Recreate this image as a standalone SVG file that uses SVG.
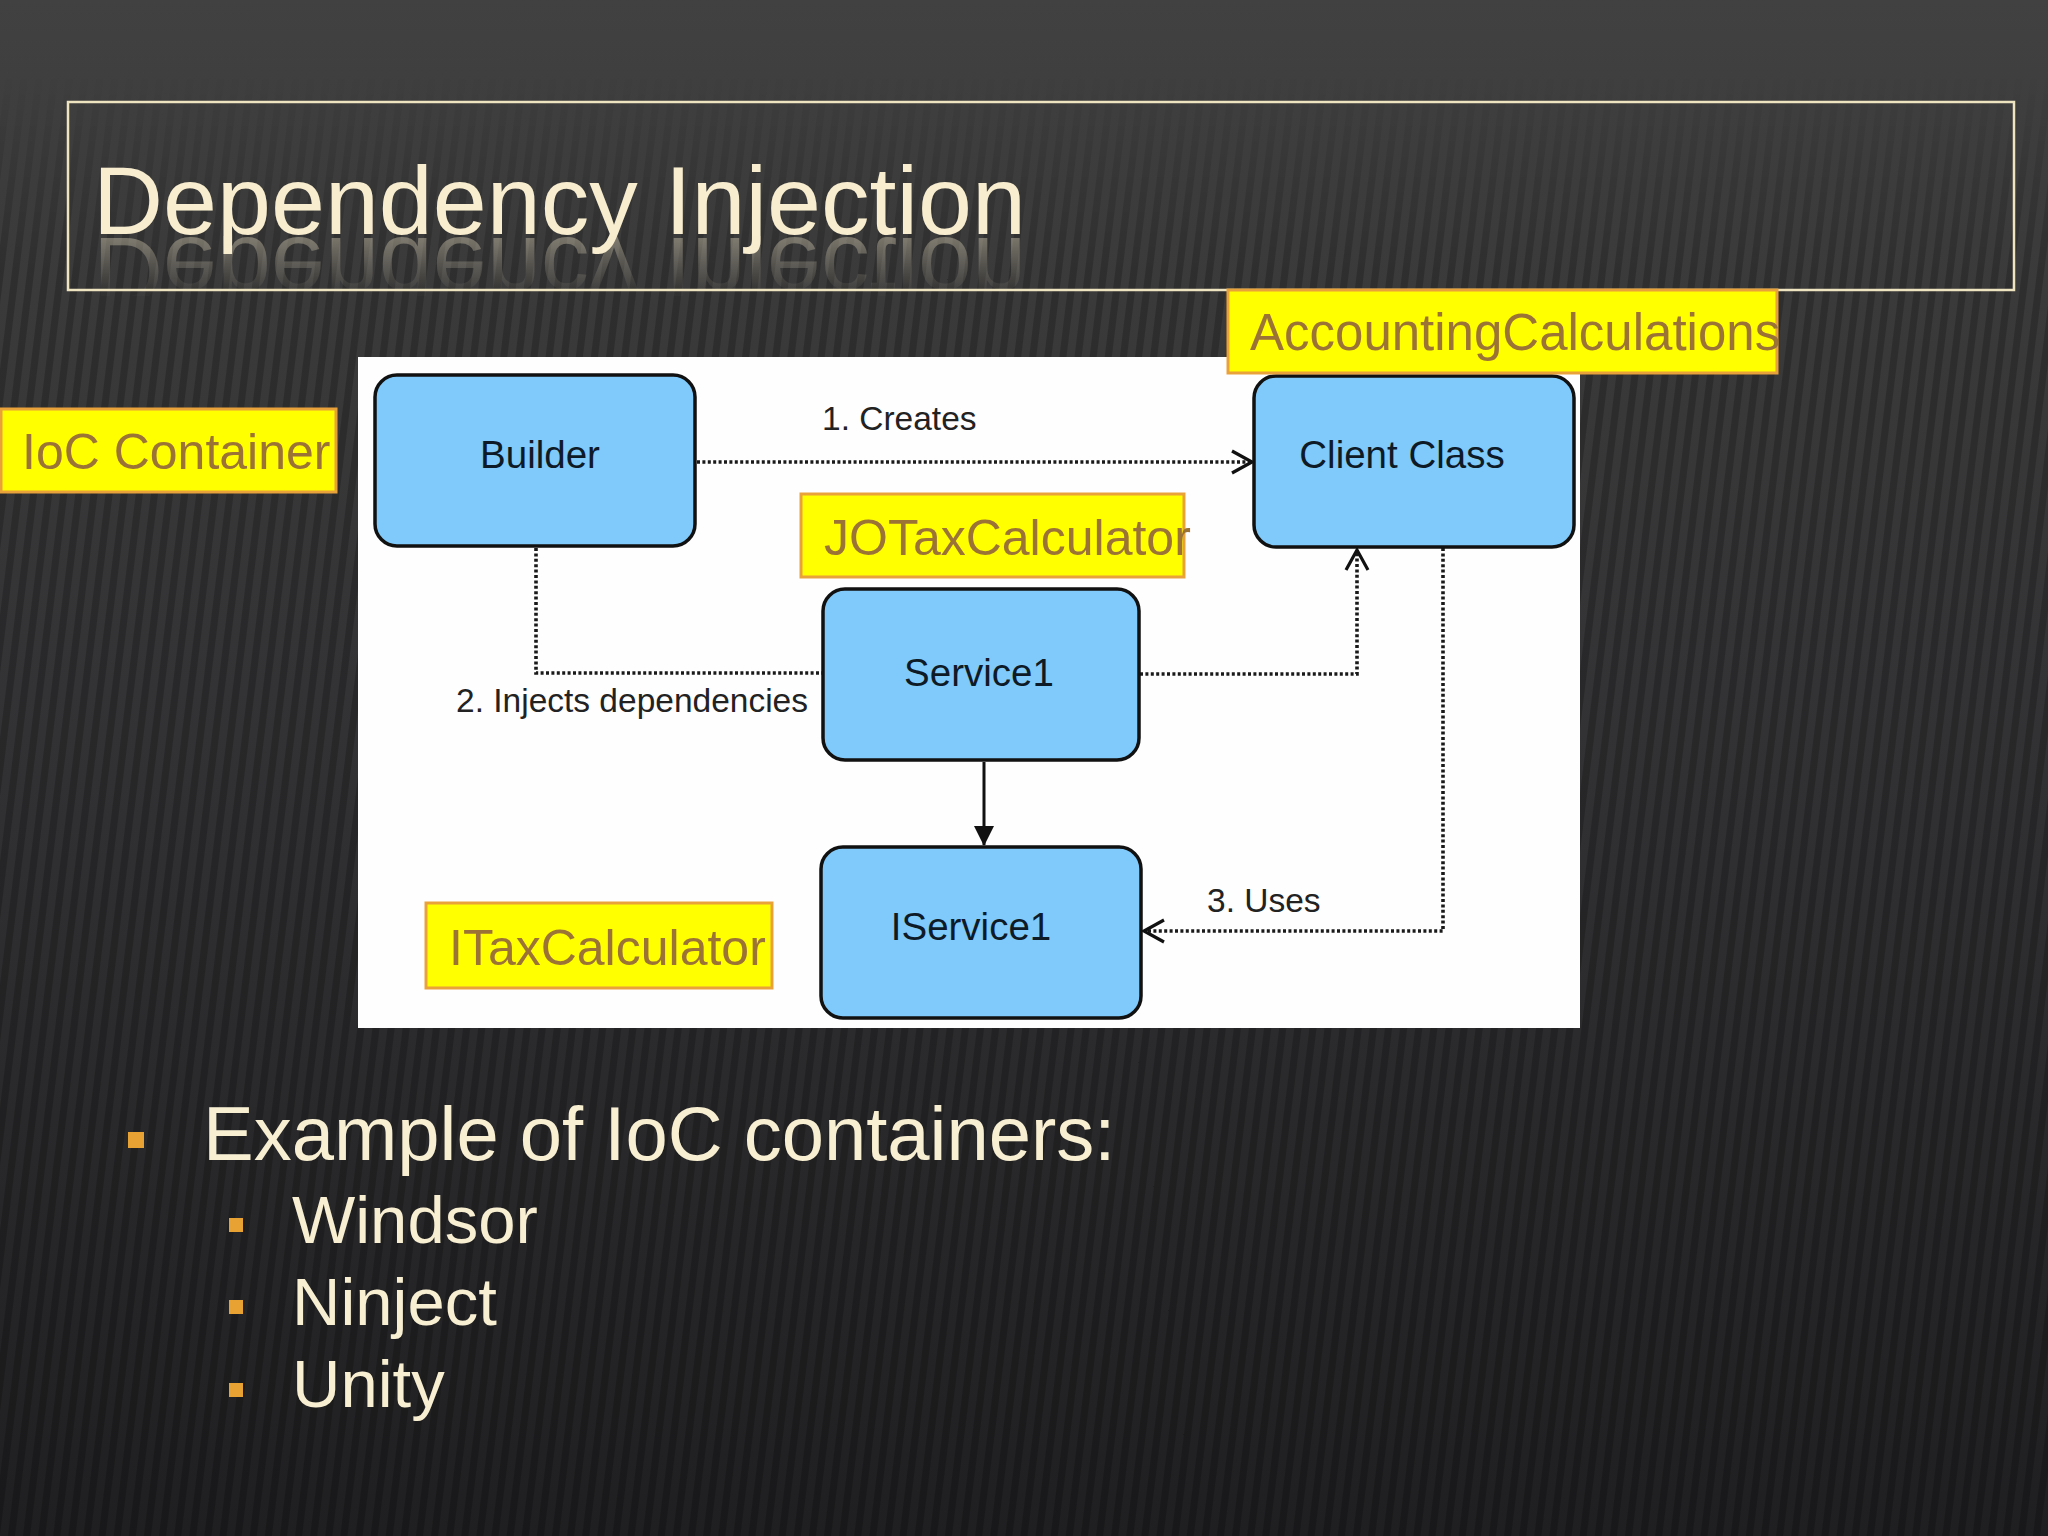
<svg xmlns="http://www.w3.org/2000/svg" xmlns:xlink="http://www.w3.org/1999/xlink" width="2048" height="1536" viewBox="0 0 2048 1536">
<defs>
<style>
.lbl{font-family:"Liberation Sans",Arial,sans-serif;font-size:33.5px;fill:#222}
.node rect{fill:#7FCAFB;stroke:#111;stroke-width:3.5}
.node text{font-family:"Liberation Sans",Arial,sans-serif;font-size:38.5px;fill:#0E1A26;text-anchor:middle}
.tag rect{fill:#FFFF00;stroke:#E9A13A;stroke-width:3}
.tag text{font-family:"Liberation Sans",Arial,sans-serif;font-size:50px;fill:#9C7336}
.dot{fill:none;stroke:#1a1a1a;stroke-width:3.6;stroke-dasharray:3 2.4}
.bul{fill:#E8A133}
.btxt{font-family:"Liberation Sans",Arial,sans-serif;fill:#F8EFD2}
</style>
<linearGradient id="bg" x1="0" y1="0" x2="0" y2="1">
<stop offset="0" stop-color="#414141"/>
<stop offset="0.12" stop-color="#3c3c3c"/>
<stop offset="0.45" stop-color="#333335"/>
<stop offset="0.7" stop-color="#2a2a2c"/>
<stop offset="1" stop-color="#1f1f21"/>
</linearGradient>
<pattern id="stripes" width="15" height="200" patternUnits="userSpaceOnUse" patternTransform="rotate(7)">
<rect x="0" y="0" width="7" height="200" fill="#000" opacity="0.2"/>
</pattern>
<linearGradient id="fadeIn" x1="0" y1="0" x2="0" y2="1">
<stop offset="0" stop-color="#fff" stop-opacity="0"/>
<stop offset="0.05" stop-color="#fff" stop-opacity="0"/>
<stop offset="0.18" stop-color="#fff" stop-opacity="1"/>
<stop offset="1" stop-color="#fff" stop-opacity="1"/>
</linearGradient>
<mask id="stripeMask">
<rect x="0" y="0" width="2048" height="1536" fill="url(#fadeIn)"/>
</mask>
<linearGradient id="reflFade" gradientUnits="userSpaceOnUse" x1="0" y1="238" x2="0" y2="292">
<stop offset="0" stop-color="#fff" stop-opacity="0.45"/>
<stop offset="1" stop-color="#fff" stop-opacity="0.03"/>
</linearGradient>
<mask id="reflMask">
<rect x="60" y="236" width="1000" height="60" fill="url(#reflFade)"/>
</mask>
<linearGradient id="orangeLine" x1="0" y1="0" x2="1" y2="0">
<stop offset="0" stop-color="#E8962A" stop-opacity="0"/>
<stop offset="0.05" stop-color="#E8962A" stop-opacity="1"/>
<stop offset="1" stop-color="#E8962A" stop-opacity="1"/>
</linearGradient>
<marker id="open" markerUnits="userSpaceOnUse" viewBox="0 0 24 26" refX="22" refY="13" markerWidth="24" markerHeight="26" orient="auto">
<path d="M2,2 L22,13 L2,24" fill="none" stroke="#111" stroke-width="3.2"/>
</marker>
<marker id="solid" markerUnits="userSpaceOnUse" viewBox="0 0 20 22" refX="19" refY="11" markerWidth="20" markerHeight="22" orient="auto">
<path d="M0,1 L20,11 L0,21 Z" fill="#111"/>
</marker>
</defs>

<!-- background -->
<rect x="0" y="0" width="2048" height="1536" fill="url(#bg)"/>
<rect x="0" y="0" width="2048" height="1536" fill="url(#stripes)" mask="url(#stripeMask)"/>

<!-- title -->
<g id="title">
<rect x="68" y="102" width="1946" height="188" fill="none" stroke="#EFE4C0" stroke-width="2.5"/>
<text id="titleText" x="93" y="234" font-family="'Liberation Sans',Arial,sans-serif" font-size="97" fill="#F8EDCF">Dependency Injection</text>
<g mask="url(#reflMask)">
<use xlink:href="#titleText" href="#titleText" transform="translate(0,472) scale(1,-1)" opacity="0.8"/>
</g>
<line x1="100" y1="236.5" x2="2048" y2="236.5" stroke="url(#orangeLine)" stroke-width="4"/>
</g>

<!-- diagram panel -->
<rect id="panel" x="358" y="357" width="1222" height="671" fill="#FEFEFE"/>

<!-- connectors -->
<g id="connectors">
<line class="dot" x1="697" y1="462" x2="1252" y2="462" marker-end="url(#open)"/>
<path class="dot" d="M536,548 V673 H822"/>
<path class="dot" d="M1140,674 H1357 V550" marker-end="url(#open)"/>
<path class="dot" d="M1443,548 V931 H1144" marker-end="url(#open)"/>
<line x1="984" y1="762" x2="984" y2="845" stroke="#111" stroke-width="3" marker-end="url(#solid)"/>
<text class="lbl" x="822" y="430">1. Creates</text>
<text class="lbl" x="456" y="712">2. Injects dependencies</text>
<text class="lbl" x="1207" y="912">3. Uses</text>
</g>

<!-- nodes -->
<g id="builder" class="node">
<rect x="375" y="375" width="320" height="171" rx="22"/>
<text x="540" y="468">Builder</text>
</g>
<g id="client" class="node">
<rect x="1254" y="376" width="320" height="171" rx="22"/>
<text x="1402" y="468">Client Class</text>
</g>
<g id="service1" class="node">
<rect x="823" y="589" width="316" height="171" rx="22"/>
<text x="979" y="686">Service1</text>
</g>
<g id="iservice1" class="node">
<rect x="821" y="847" width="320" height="171" rx="22"/>
<text x="971" y="940">IService1</text>
</g>

<!-- yellow tags -->
<g id="tag-ioc" class="tag">
<rect x="1" y="409" width="335" height="83"/>
<text x="22" y="469">IoC Container</text>
</g>
<g id="tag-accounting" class="tag">
<rect x="1228" y="290" width="549" height="83"/>
<text x="1250" y="350" style="font-size:51px">AccountingCalculations</text>
</g>
<g id="tag-jotax" class="tag">
<rect x="801" y="494" width="383" height="83"/>
<text x="824" y="555">JOTaxCalculator</text>
</g>
<g id="tag-itax" class="tag">
<rect x="426" y="903" width="346" height="85"/>
<text x="449" y="965">ITaxCalculator</text>
</g>

<!-- bullets -->
<g id="bullets">
<rect class="bul" x="128" y="1132" width="16" height="16"/>
<text class="btxt" x="203" y="1160" font-size="76">Example of IoC containers:</text>
<rect class="bul" x="229" y="1218" width="14" height="14"/>
<text class="btxt" x="292" y="1243" font-size="67">Windsor</text>
<rect class="bul" x="229" y="1300" width="14" height="14"/>
<text class="btxt" x="292" y="1325" font-size="67">Ninject</text>
<rect class="bul" x="229" y="1383" width="14" height="14"/>
<text class="btxt" x="292" y="1407" font-size="67">Unity</text>
</g>
</svg>
